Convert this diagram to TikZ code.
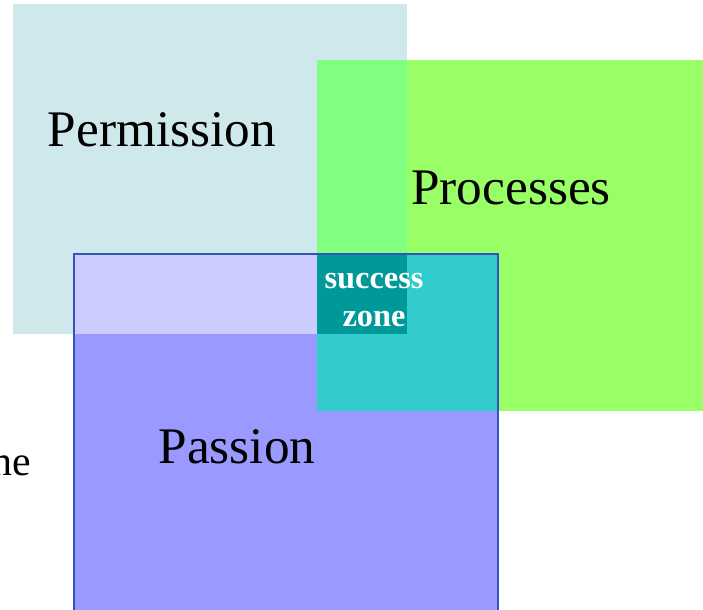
\documentclass[tikz,border=0pt]{standalone}
\usepackage{fontspec}
\setmainfont{Liberation Serif}
\definecolor{permcol}{HTML}{CFE8EB}
\definecolor{proccol}{HTML}{99FF66}
\definecolor{passcol}{HTML}{9999FF}
\definecolor{permproc}{HTML}{80FF80}
\definecolor{permpass}{HTML}{CCCCFF}
\definecolor{procpass}{HTML}{33CCCC}
\definecolor{zonecol}{HTML}{009999}
\definecolor{edgecol}{HTML}{3355BB}
\tikzset{
  label/.style={font=\fontsize{51.5}{60}\selectfont, inner sep=0pt, anchor=base},
  zone/.style={font=\fontsize{32.5}{38}\selectfont\bfseries, text=white, align=center, inner sep=0pt}
}

\begin{document}
\begin{tikzpicture}[x=1bp, y=-1bp]
			%%%%% START %%%%%
			\useasboundingbox (0, 0) rectangle (703, 610);
			\clip (0, 0) rectangle (703, 610);
			
			\fill[permcol] (13, 4) rectangle (407, 334);
			\fill[proccol] (317, 60) rectangle (703, 411);
			\fill[permproc] (317, 60) rectangle (407, 334);
			
			\fill[passcol] (74, 254) rectangle (498, 612);
			\fill[permpass] (74, 254) rectangle (407, 334);
			\fill[procpass] (317, 254) rectangle (498, 411);
			\fill[zonecol] (317, 254) rectangle (407, 334);
			\draw[edgecol, line width=1.2bp] (74, 612) -- (74, 254) -- (498, 254) -- (498, 612);
			
			\node[label] (permission) at (162, 147) {Permission};
			\node[label] (processes) at (511, 205) {Processes};
			\node[label] (passion) at (237, 463) {Passion};
			\node[label, font=\fontsize{42}{50}\selectfont, anchor=base east] (cut) at (31, 475) {he};
			
			\node[zone] (success) at (374, 300) {success\\zone};
			
			%%%%% END %%%%%
		\end{tikzpicture}
\end{document}
